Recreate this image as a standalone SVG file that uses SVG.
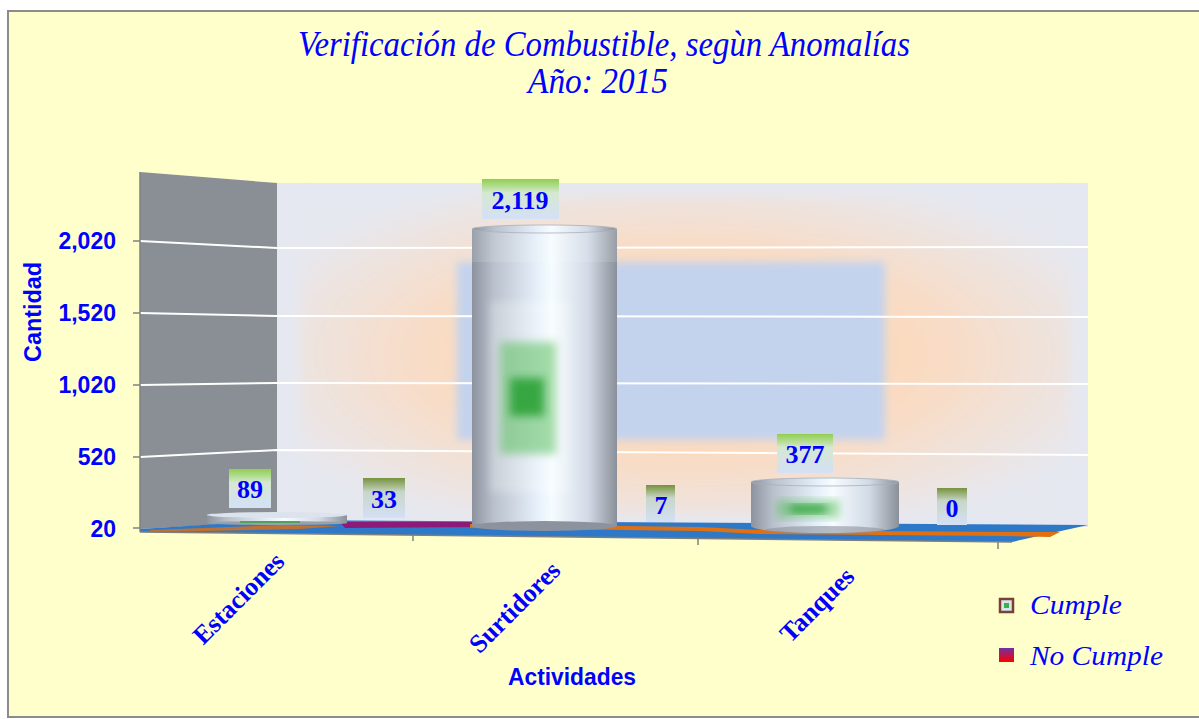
<svg xmlns="http://www.w3.org/2000/svg" width="1199" height="719" viewBox="0 0 1199 719">
<defs>
<style>
.tick{stroke:#808080;stroke-width:1.5}
.grid{stroke:#ffffff;stroke-width:2;fill:none}
.ax{font-family:"Liberation Sans",Arial,sans-serif;font-weight:bold;font-size:23px;fill:#0000FF}
.dl{font-family:"Liberation Serif","Times New Roman",serif;font-weight:bold;font-size:26px;fill:#0000FF;text-anchor:middle}
.cat{font-family:"Liberation Serif","Times New Roman",serif;font-weight:bold;font-size:26px;fill:#0000FF;text-anchor:end}
.ttl{font-family:"Liberation Serif","Times New Roman",serif;font-style:italic;font-size:36px;fill:#0000FF}
.leg{font-family:"Liberation Serif","Times New Roman",serif;font-style:italic;font-size:27px;fill:#0000FF}
</style>
<linearGradient id="cyl" x1="0" y1="0" x2="1" y2="0">
<stop offset="0" stop-color="#8C939E"/>
<stop offset="0.15" stop-color="#B9C1CC"/>
<stop offset="0.45" stop-color="#E6F0FA"/>
<stop offset="0.55" stop-color="#F6FCFF"/>
<stop offset="0.8" stop-color="#D2DAE6"/>
<stop offset="1" stop-color="#8A9099"/>
</linearGradient>
<linearGradient id="lbG" x1="0" y1="0" x2="0" y2="1">
<stop offset="0" stop-color="#8ECF4E"/>
<stop offset="0.35" stop-color="#D6E8D2"/>
<stop offset="1" stop-color="#D4E0F6"/>
</linearGradient>
<linearGradient id="lbO" x1="0" y1="0" x2="0" y2="1">
<stop offset="0" stop-color="#76923C"/>
<stop offset="0.35" stop-color="#C8D6C8"/>
<stop offset="1" stop-color="#D4E0F6"/>
</linearGradient>
<radialGradient id="glow" cx="0.5" cy="0.5" r="0.6">
<stop offset="0" stop-color="#FDCFA6"/>
<stop offset="0.55" stop-color="#F9DCC4"/>
<stop offset="1" stop-color="#E6E8F0"/>
</radialGradient>
<linearGradient id="nc" x1="0" y1="0" x2="0" y2="1">
<stop offset="0" stop-color="#7030A0"/>
<stop offset="1" stop-color="#FF0000"/>
</linearGradient>
<filter id="blur4" x="-20%" y="-20%" width="140%" height="140%"><feGaussianBlur stdDeviation="4"/></filter>
<filter id="blur6" x="-30%" y="-30%" width="160%" height="160%"><feGaussianBlur stdDeviation="6"/></filter>
</defs>

<rect x="0" y="0" width="1199" height="719" fill="#ffffff"/>
<rect x="8" y="11" width="1196" height="706" fill="#FFFFCC" stroke="#8C8C8C" stroke-width="2"/>

<g id="title">
<text class="ttl" x="604" y="56" text-anchor="middle" textLength="612" lengthAdjust="spacingAndGlyphs">Verificación de Combustible, segùn Anomalías</text>
<text class="ttl" x="598" y="93" text-anchor="middle" textLength="140" lengthAdjust="spacingAndGlyphs">Año: 2015</text>
</g>

<g id="walls">
<polygon points="140,172 277,183 277,521 140,529" fill="#8A8F96"/>
<polygon points="277,183 1088,183 1088,527 277,521" fill="#E6E8F1"/>
<rect x="300" y="195" width="770" height="320" fill="url(#glow)" filter="url(#blur6)"/>
<rect x="457" y="262" width="428" height="178" fill="#C3D3EE" filter="url(#blur4)"/>
</g>

<g id="gridlines">
<polyline class="grid" points="140,241 277,248 1088,247"/>
<polyline class="grid" points="140,313 277,316 1088,317"/>
<polyline class="grid" points="140,385 277,383 1088,384"/>
<polyline class="grid" points="140,457 277,450 1088,455"/>
</g>

<g id="floor">
<polygon points="140,529 277,520 1088,525 1012,542 140,532" fill="#2E78C8"/>
<polygon points="340,522 470,522 480,527 345,528" fill="#8B1A78"/>
<polygon points="470,524 700,527 760,530 1000,532 1060,532 1050,537 1000,536 760,534 700,531 470,528" fill="#E07010"/>
<polygon points="150,530 280,525 340,526 300,529 150,532" fill="#E07010" opacity="0.8"/>
<line x1="140" y1="532" x2="1012" y2="542" stroke="#7F7F7F" stroke-width="1.5"/>
</g>

<g id="axes">
<line class="tick" x1="133" y1="241" x2="140" y2="241"/>
<line class="tick" x1="133" y1="313" x2="140" y2="313"/>
<line class="tick" x1="133" y1="385" x2="140" y2="385"/>
<line class="tick" x1="133" y1="457" x2="140" y2="457"/>
<line class="tick" x1="133" y1="528" x2="140" y2="528"/>
<line class="tick" x1="140" y1="172" x2="140" y2="532"/>
<line class="tick" x1="413" y1="535" x2="413" y2="541"/>
<line class="tick" x1="698" y1="538" x2="698" y2="545"/>
<line class="tick" x1="998" y1="542" x2="998" y2="549"/>
<text class="ax" x="116" y="249" text-anchor="end">2,020</text>
<text class="ax" x="116" y="321" text-anchor="end">1,520</text>
<text class="ax" x="116" y="393" text-anchor="end">1,020</text>
<text class="ax" x="116" y="465" text-anchor="end">520</text>
<text class="ax" x="116" y="537" text-anchor="end">20</text>
<text class="ax" x="0" y="0" font-size="20" text-anchor="middle" transform="translate(41,312) rotate(-90)" textLength="100" lengthAdjust="spacingAndGlyphs">Cantidad</text>
<text class="ax" x="572" y="685" font-size="20" text-anchor="middle" textLength="128" lengthAdjust="spacingAndGlyphs">Actividades</text>
</g>

<g id="categories">
<text class="cat" x="0" y="0" transform="translate(286,563) rotate(-45)">Estaciones</text>
<text class="cat" x="0" y="0" transform="translate(562,572) rotate(-45)">Surtidores</text>
<text class="cat" x="0" y="0" transform="translate(856,578) rotate(-45)">Tanques</text>
</g>

<g id="bar-estaciones">
<rect x="207" y="515" width="140" height="8" fill="url(#cyl)"/>
<ellipse cx="277" cy="515" rx="70" ry="3" fill="#DDE3EC"/>
<ellipse cx="277" cy="523" rx="70" ry="2" fill="#9AA0A8"/>
<line x1="240" y1="522" x2="300" y2="522" stroke="#3AA040" stroke-width="1.5"/>
</g>

<g id="bar-surtidores">
<rect x="472" y="229" width="145" height="297" fill="url(#cyl)"/>
<ellipse cx="544.5" cy="526" rx="72.5" ry="5" fill="#8C939E"/>
<rect x="472" y="229" width="145" height="33" fill="#ffffff" opacity="0.12"/>
<rect x="490" y="302" width="80" height="190" fill="#ffffff" opacity="0.25" filter="url(#blur4)"/>
<rect x="500" y="342" width="56" height="112" fill="#5DC060" opacity="0.55" filter="url(#blur4)"/>
<rect x="510" y="378" width="34" height="38" fill="#28A030" opacity="0.85" filter="url(#blur4)"/>
<ellipse cx="544.5" cy="229" rx="72.5" ry="4" fill="url(#cyl)" stroke="#A8B0BA" stroke-width="0.8"/>
</g>

<g id="bar-tanques">
<rect x="751" y="482" width="148" height="44" fill="url(#cyl)"/>
<ellipse cx="825" cy="526" rx="74" ry="7" fill="url(#cyl)"/>
<ellipse cx="825" cy="530" rx="60" ry="4" fill="#8C939E" opacity="0.6"/>
<rect x="777" y="500" width="62" height="18" fill="#5DC060" opacity="0.55" filter="url(#blur4)"/>
<rect x="790" y="505" width="36" height="8" fill="#28A030" opacity="0.85" filter="url(#blur4)"/>
<ellipse cx="825" cy="482" rx="74" ry="4" fill="url(#cyl)" stroke="#A8B0BA" stroke-width="0.8"/>
</g>

<g id="labels">
<rect x="229" y="469" width="42" height="39" fill="url(#lbG)"/>
<text class="dl" x="250" y="498">89</text>
<rect x="363" y="478" width="42" height="40" fill="url(#lbO)"/>
<text class="dl" x="384" y="508">33</text>
<rect x="482" y="179" width="77" height="40" fill="url(#lbG)"/>
<text class="dl" x="520" y="209">2,119</text>
<rect x="646" y="485" width="29" height="37" fill="url(#lbO)"/>
<text class="dl" x="661" y="514">7</text>
<rect x="777" y="434" width="56" height="39" fill="url(#lbG)"/>
<text class="dl" x="805" y="463">377</text>
<rect x="937" y="488" width="30" height="37" fill="url(#lbO)"/>
<text class="dl" x="952" y="517">0</text>
</g>

<g id="legend">
<rect x="1000" y="599" width="13" height="13" fill="#D8E4F0" stroke="#7A4030" stroke-width="2.5"/>
<rect x="1004" y="603" width="5" height="5" fill="#3CB043"/>
<text class="leg" x="1030" y="614" textLength="92" lengthAdjust="spacingAndGlyphs">Cumple</text>
<rect x="999" y="648" width="15" height="14" fill="url(#nc)"/>
<text class="leg" x="1030" y="665" textLength="133" lengthAdjust="spacingAndGlyphs">No Cumple</text>
</g>
</svg>
